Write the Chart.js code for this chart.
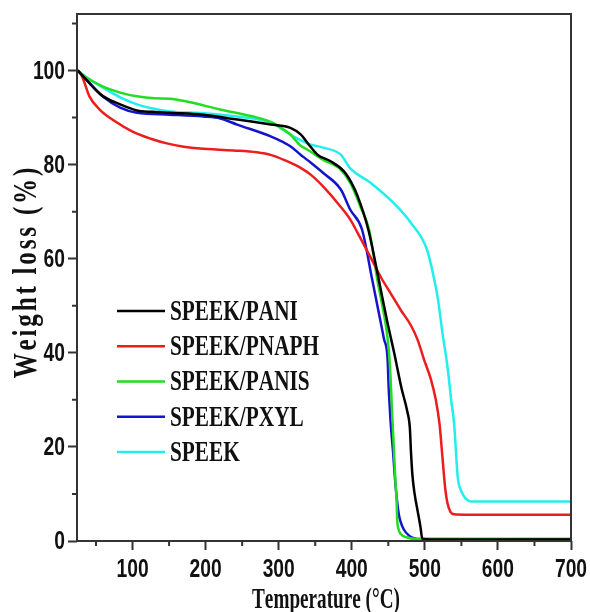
<!DOCTYPE html>
<html>
<head>
<meta charset="utf-8">
<script src="https://cdn.jsdelivr.net/npm/chart.js@4/dist/chart.umd.min.js"></script>
<style>
  body { margin: 0; background: #fff; }
  canvas { display: block; }
</style>
</head>
<body>
<canvas id="tga" width="590" height="612"></canvas>
<script>
// TGA curves: temperature (C) and remaining weight (%)
var seriesNames = ['SPEEK/PANI', 'SPEEK/PNAPH', 'SPEEK/PANIS', 'SPEEK/PXYL', 'SPEEK'];
var seriesColors = ['#000000', '#ee1c1c', '#22dd22', '#1414cc', '#22eeee'];

var paniT = [25, 37, 59, 83, 106, 128, 150, 197, 238, 265, 289, 316, 330, 343, 353, 371, 389, 400, 408, 422.6, 437, 448, 458, 468, 476, 479.5, 481, 483, 486, 490, 494, 496.5, 520, 700];
var paniW = [100, 98, 94.6, 92.8, 91.5, 91.2, 91, 90.6, 89.7, 89.1, 88.5, 87.8, 86.4, 83.9, 82.1, 80.7, 78.6, 76, 73.3, 66.2, 55.5, 47, 40, 32.5, 27.5, 24, 19, 14, 10, 6.5, 3, 0.5, 0.3, 0.3];

var pnaphT = [25, 30, 34, 41, 55, 75, 100, 125, 147, 170, 192, 238, 270, 290, 307, 330, 345, 361, 385, 398, 408, 430, 440, 453, 467, 481, 490, 499, 508, 515, 520, 524, 528, 531, 535, 540, 560, 700];
var pnaphW = [100, 99, 97.5, 94.5, 91.7, 89.3, 87, 85.5, 84.5, 83.8, 83.4, 83, 82.6, 82, 81, 79.3, 77.7, 75.3, 71, 68.3, 65.5, 59, 56, 52.7, 49.1, 45.8, 42.8, 38.5, 34.5, 30, 25, 18, 11, 8, 6.2, 5.7, 5.6, 5.6];

var panisT = [25, 37, 59, 83, 106, 130, 151, 174, 220, 265, 290, 307, 316, 330, 339, 361, 385, 398, 412, 424, 435, 447.5, 451, 453, 455, 457.5, 460, 461.3, 462, 464, 467, 475, 490, 700];
var panisW = [100, 98.5, 96.6, 95.3, 94.5, 94.1, 94, 93.4, 91.7, 90.2, 89, 87.4, 86.4, 84, 83.2, 81, 78.9, 76.1, 71, 66, 55.5, 44.9, 40, 35, 28, 20, 12, 9, 5, 2.5, 1.5, 0.8, 0.4, 0.3];

var pxylT = [25, 37, 59, 83, 106, 151, 197, 220, 243, 289, 307, 316, 330, 339, 361, 385, 398, 414, 428, 441.6, 444, 448.4, 449.5, 450, 451, 453, 456.6, 460, 464, 467, 471, 478, 485, 495, 700];
var pxylW = [100, 98, 94.5, 92.1, 91, 90.6, 90.2, 89.8, 88.5, 86, 84.7, 83.9, 82.1, 81, 78.2, 74.7, 70.4, 66.2, 55.5, 44.9, 43, 39.9, 37, 34.5, 31, 25.7, 18.7, 11.6, 6, 4, 2.5, 1.2, 0.6, 0.4, 0.4];

var speekT = [25, 37, 59, 83, 106, 128, 151, 197, 243, 289, 320, 343, 361, 385, 398, 426, 457.5, 481, 503, 512, 518, 524, 531, 536, 540, 545, 549, 556, 563, 700];
var speekW = [100, 98.5, 96.4, 94.3, 92.8, 91.9, 91.3, 90.9, 90.2, 88.9, 86, 84.3, 83.6, 82.1, 79.2, 76.1, 71.8, 67.6, 61.9, 56.2, 51.3, 44.3, 37, 30, 25, 13.6, 10.9, 9, 8.4, 8.4];

var xTicks = [100, 200, 300, 400, 500, 600, 700];
var xMinor = [50, 150, 250, 350, 450, 550, 650];
var yTicks = [0, 20, 40, 60, 80, 100];
var yMinor = [10, 30, 50, 70, 90, 110];

var xTitle = 'Temperature (\u00B0C)';
var yTitle = 'Weight loss (%)';

function pts(t, w) {
    var out = [];
    for (var i = 0; i < t.length; i++) out.push({x: t[i], y: w[i]});
    return out;
}

var allT = [paniT, pnaphT, panisT, pxylT, speekT];
var allW = [paniW, pnaphW, panisW, pxylW, speekW];
var datasets = [];
for (var i = 0; i < seriesNames.length; i++) {
    datasets.push({
        label: seriesNames[i],
        data: pts(allT[i], allW[i]),
        borderColor: seriesColors[i],
        backgroundColor: seriesColors[i],
        borderWidth: 2.5,
        pointRadius: 0,
        cubicInterpolationMode: 'monotone',
        fill: false
    });
}

var frameColor = '#333333';
var textColor = '#111111';
var sansBold = 'bold 26px "Liberation Sans", Arial, sans-serif';
var serifBold = '"Liberation Serif", "Times New Roman", serif';

// the original figure is horizontally squeezed, so text is drawn narrowed
function squeezeText(ctx, text, x, y, align, sq, sp) {
    var chars = text.split('');
    var widths = chars.map(function(c) { return ctx.measureText(c).width * sq; });
    var total = widths.reduce(function(a, b) { return a + b; }, 0) + sp * (chars.length - 1);
    var pos = align === 'center' ? x - total / 2 : (align === 'right' ? x - total : x);
    ctx.textAlign = 'left';
    chars.forEach(function(c, k) {
        ctx.save();
        ctx.translate(pos, y);
        ctx.scale(sq, 1);
        ctx.fillText(c, 0, 0);
        ctx.restore();
        pos += widths[k] + sp;
    });
}

// frame, minor ticks, tick labels, titles and legend
var extras = {
    id: 'extras',
    afterDraw: function(chart) {
        var ctx = chart.ctx, a = chart.chartArea;
        var xs = chart.scales.x, ys = chart.scales.y;
        ctx.save();
        ctx.strokeStyle = frameColor;
        ctx.lineWidth = 2;
        ctx.strokeRect(a.left, a.top, a.right - a.left, a.bottom - a.top);
        ctx.beginPath();
        xMinor.forEach(function(v) {
            var px = xs.getPixelForValue(v);
            ctx.moveTo(px, a.bottom);
            ctx.lineTo(px, a.bottom + 5);
        });
        yMinor.forEach(function(v) {
            var py = ys.getPixelForValue(v);
            ctx.moveTo(a.left, py);
            ctx.lineTo(a.left - 5, py);
        });
        ctx.stroke();

        ctx.fillStyle = textColor;
        ctx.font = sansBold;
        ctx.textBaseline = 'middle';
        xs.ticks.forEach(function(t) {
            squeezeText(ctx, String(t.value), xs.getPixelForValue(t.value), a.bottom + 29, 'center', 0.74, 0);
        });
        ys.ticks.forEach(function(t) {
            squeezeText(ctx, String(t.value), a.left - 12, ys.getPixelForValue(t.value) + 1, 'right', 0.74, 0);
        });

        ctx.font = 'bold 30px ' + serifBold;
        ctx.textBaseline = 'alphabetic';
        squeezeText(ctx, xTitle, (a.left + a.right) / 2 + 2, 608, 'center', 0.64, 0);

        ctx.save();
        ctx.translate(36, 273);
        ctx.rotate(-Math.PI / 2);
        ctx.font = 'bold 33px ' + serifBold;
        squeezeText(ctx, yTitle, 0, 0, 'center', 0.76, 2.8);
        ctx.restore();

        ctx.font = 'bold 30px ' + serifBold;
        ctx.textBaseline = 'middle';
        chart.data.datasets.forEach(function(ds, k) {
            var y = 311 + k * 35.25;
            ctx.strokeStyle = ds.borderColor;
            ctx.lineWidth = 2.5;
            ctx.beginPath();
            ctx.moveTo(117, y);
            ctx.lineTo(165, y);
            ctx.stroke();
            ctx.fillStyle = textColor;
            squeezeText(ctx, ds.label, 170, y + 1, 'left', 0.71, 0);
        });
        ctx.restore();
    }
};

var chart = new Chart(document.getElementById('tga').getContext('2d'), {
    type: 'line',
    data: { datasets: datasets },
    plugins: [extras],
    options: {
        responsive: false,
        animation: false,
        layout: { padding: { top: 14, right: 19, left: 0, bottom: 0 } },
        plugins: { legend: { display: false }, tooltip: { enabled: false } },
        scales: {
            x: {
                type: 'linear',
                min: 24,
                max: 700,
                afterBuildTicks: function(s) { s.ticks = xTicks.map(function(v) { return {value: v}; }); },
                afterFit: function(s) { s.height = 71; s.paddingLeft = 0; s.paddingRight = 0; },
                grid: { drawOnChartArea: false, drawTicks: true, tickLength: 9, tickColor: frameColor, tickWidth: 2 },
                border: { display: false },
                ticks: { display: false }
            },
            y: {
                min: 0,
                max: 112,
                afterBuildTicks: function(s) { s.ticks = yTicks.map(function(v) { return {value: v}; }); },
                afterFit: function(s) { s.width = 77; s.paddingTop = 0; s.paddingBottom = 0; },
                grid: { drawOnChartArea: false, drawTicks: true, tickLength: 9, tickColor: frameColor, tickWidth: 2 },
                border: { display: false },
                ticks: { display: false }
            }
        }
    }
});
</script>
</body>
</html>
